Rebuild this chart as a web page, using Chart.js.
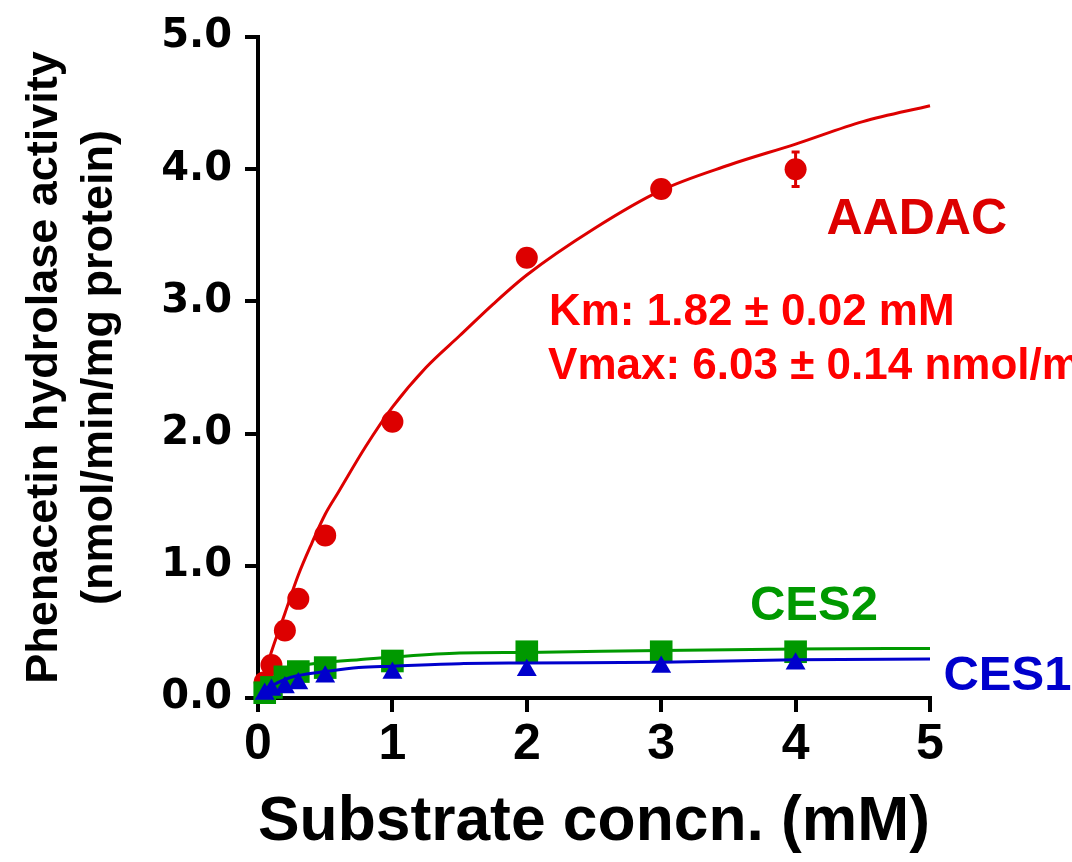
<!DOCTYPE html>
<html>
<head>
<meta charset="utf-8">
<script src="https://cdn.jsdelivr.net/npm/chart.js@4.4.0/dist/chart.umd.min.js"></script>
<style>
  html, body { margin: 0; padding: 0; background: #fff; }
  #wrap { width: 1072px; height: 862px; position: relative; }
</style>
</head>
<body>
<div id="wrap"><canvas id="kineticsChart"></canvas></div>
<script>
// === values ===
const concPoints = [0.05, 0.1, 0.2, 0.3, 0.5, 1, 2, 3, 4];
const aadacMean = [0.12, 0.25, 0.51, 0.75, 1.23, 2.09, 3.33, 3.85, 4.00];
const aadacSD   = [0.02, 0.03, 0.03, 0.03, 0.04, 0.05, 0.05, 0.06, 0.13];
const ces2Mean  = [0.04, 0.08, 0.16, 0.20, 0.23, 0.28, 0.35, 0.35, 0.35];
const ces1Mean  = [0.03, 0.06, 0.08, 0.11, 0.16, 0.19, 0.21, 0.235, 0.26];

// fitted curves as drawn in the figure
const aadacFitX = [0, 0.05, 0.1, 0.2, 0.3, 0.4, 0.5, 0.6, 0.8, 1.0, 1.25, 1.5, 1.75, 2.0, 2.5, 3.0, 3.5, 4.0, 4.5, 5.0];
const aadacFitY = [0, 0.18, 0.35, 0.64, 0.93, 1.17, 1.39, 1.56, 1.90, 2.20, 2.50, 2.74, 2.98, 3.20, 3.55, 3.84, 4.03, 4.19, 4.36, 4.48];
const cesFitX   = [0, 0.05, 0.1, 0.2, 0.3, 0.5, 0.75, 1.0, 1.5, 2.0, 3.0, 4.0, 5.0];
const ces2FitY  = [0, 0.08, 0.14, 0.20, 0.24, 0.27, 0.29, 0.31, 0.34, 0.345, 0.36, 0.37, 0.375];
const ces1FitY  = [0, 0.05, 0.09, 0.14, 0.17, 0.20, 0.23, 0.24, 0.26, 0.265, 0.27, 0.29, 0.295];

const xTicks = [0, 1, 2, 3, 4, 5];
const yTicks = [0, 1, 2, 3, 4, 5];

const RED = "#dd0000";
const GREEN = "#009900";
const BLUE = "#0000cc";

const toXY = (xs, ys) => xs.map((x, i) => ({ x: x, y: ys[i] }));

// text placed on the plot, in data units
const notes = [
    { text: "AADAC", x: 4.23, y: 3.51, color: RED, size: 50 },
    { text: "Km: 1.82 \u00b1 0.02 mM", x: 2.165, y: 2.82, color: "#ff0000", size: 44 },
    { text: "Vmax: 6.03 \u00b1 0.14 nmol/min/mg protein", x: 2.158, y: 2.41, color: "#ff0000", size: 44 },
    { text: "CES2", x: 3.66, y: 0.59, color: GREEN, size: 49 },
    { text: "CES1", x: 5.10, y: 0.06, color: BLUE, size: 49 }
];

const errorBarPlugin = {
    id: "errorBars",
    beforeDatasetsDraw(chart) {
        const { ctx, scales: { x, y } } = chart;
        ctx.save();
        ctx.strokeStyle = RED;
        ctx.lineWidth = 3;
        concPoints.forEach((c, i) => {
            const px = x.getPixelForValue(c);
            const top = y.getPixelForValue(aadacMean[i] + aadacSD[i]);
            const bot = y.getPixelForValue(aadacMean[i] - aadacSD[i]);
            ctx.beginPath();
            ctx.moveTo(px, top); ctx.lineTo(px, bot);
            ctx.moveTo(px - 4, top); ctx.lineTo(px + 4, top);
            ctx.moveTo(px - 4, bot); ctx.lineTo(px + 4, bot);
            ctx.stroke();
        });
        ctx.restore();
    }
};

const notesPlugin = {
    id: "notes",
    afterDraw(chart) {
        const { ctx, scales: { x, y } } = chart;
        ctx.save();
        ctx.textAlign = "left";
        ctx.textBaseline = "alphabetic";
        notes.forEach(n => {
            ctx.font = `bold ${n.size}px "Liberation Sans", Arial, sans-serif`;
            ctx.fillStyle = n.color;
            ctx.fillText(n.text, x.getPixelForValue(n.x), y.getPixelForValue(n.y));
        });
        ctx.restore();
    }
};

const ctx = document.getElementById("kineticsChart").getContext("2d");

new Chart(ctx, {
    type: "line",
    data: {
        datasets: [
            {
                label: "CES1",
                data: toXY(concPoints, ces1Mean),
                showLine: false,
                pointStyle: "triangle",
                pointRadius: 11.5,
                backgroundColor: BLUE,
                borderColor: BLUE,
                borderWidth: 0
            },
            {
                label: "CES1 fit",
                data: toXY(cesFitX, ces1FitY),
                borderColor: BLUE,
                borderWidth: 3,
                pointRadius: 0,
                cubicInterpolationMode: "monotone"
            },
            {
                label: "CES2",
                data: toXY(concPoints, ces2Mean),
                showLine: false,
                pointStyle: "rect",
                pointRadius: 16,
                backgroundColor: GREEN,
                borderColor: GREEN,
                borderWidth: 0
            },
            {
                label: "CES2 fit",
                data: toXY(cesFitX, ces2FitY),
                borderColor: GREEN,
                borderWidth: 3,
                pointRadius: 0,
                cubicInterpolationMode: "monotone"
            },
            {
                label: "AADAC",
                data: toXY(concPoints, aadacMean),
                showLine: false,
                pointStyle: "circle",
                pointRadius: 11,
                backgroundColor: RED,
                borderColor: RED,
                borderWidth: 0
            },
            {
                label: "AADAC fit",
                data: toXY(aadacFitX, aadacFitY),
                borderColor: RED,
                borderWidth: 3,
                pointRadius: 0,
                cubicInterpolationMode: "monotone"
            }
        ]
    },
    options: {
        responsive: true,
        maintainAspectRatio: false,
        animation: false,
        clip: false,
        layout: { padding: { left: 0, right: 142, top: 34, bottom: 0 } },
        plugins: {
            legend: { display: false },
            tooltip: { enabled: false }
        },
        scales: {
            x: {
                type: "linear",
                min: 0,
                max: 5,
                afterFit: s => { s.height = 164; },
                afterBuildTicks: s => { s.ticks = xTicks.map(v => ({ value: v })); },
                border: { display: true, color: "#000", width: 4 },
                grid: { drawOnChartArea: false, drawTicks: true, tickLength: 14, color: "#000", lineWidth: 4 },
                ticks: {
                    color: "#000",
                    padding: 3,
                    font: { family: "'Liberation Sans Narrow', 'Liberation Sans', Arial, sans-serif", size: 50, weight: "bold" }
                },
                title: {
                    display: true,
                    text: "Substrate concn. (mM)",
                    color: "#000",
                    padding: { top: 0, bottom: 2 },
                    font: { family: "'Liberation Sans', Arial, sans-serif", size: 63, weight: "bold", lineHeight: 1.2 }
                }
            },
            y: {
                min: 0,
                max: 5,
                afterFit: s => { s.width = 258; },
                afterBuildTicks: s => { s.ticks = yTicks.map(v => ({ value: v })); },
                border: { display: true, color: "#000", width: 4 },
                grid: { drawOnChartArea: false, drawTicks: true, tickLength: 13, color: "#000", lineWidth: 4 },
                ticks: {
                    color: "#000",
                    padding: 13,
                    callback: v => v.toFixed(1),
                    font: { family: "'DejaVu Sans', Verdana, sans-serif", size: 40, weight: "bold" }
                },
                title: {
                    display: true,
                    text: ["Phenacetin hydrolase activity", "(nmol/min/mg protein)"],
                    color: "#000",
                    padding: { top: 17, bottom: 0 },
                    font: { family: "'Liberation Sans', Arial, sans-serif", size: 45, weight: "bold", lineHeight: 1.22 }
                }
            }
        }
    },
    plugins: [errorBarPlugin, notesPlugin]
});
</script>
</body>
</html>
